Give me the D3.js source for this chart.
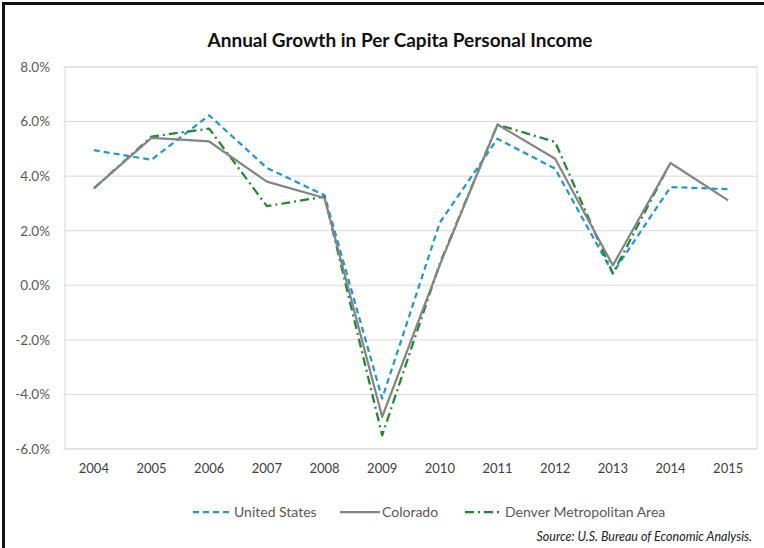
<!DOCTYPE html>
<html><head><meta charset="utf-8">
<script src="https://cdn.jsdelivr.net/npm/d3@7"></script>
<style>body{margin:0;background:#fff;}svg{display:block;}</style>
</head><body>
<script>
const years = ["2004","2005","2006","2007","2008","2009","2010","2011","2012","2013","2014","2015"];
const unitedStates = [4.95, 4.6, 6.23, 4.3, 3.3, -4.15, 2.3, 5.37, 4.27, 0.45, 3.6, 3.52];
const colorado = [3.55, 5.4, 5.27, 3.8, 3.2, -4.82, 0.75, 5.89, 4.64, 0.73, 4.48, 3.11];
const denver = [3.55, 5.45, 5.74, 2.9, 3.25, -5.5, 0.8, 5.89, 5.25, 0.43, 4.5, null];
const yTicks = [-6, -4, -2, 0, 2, 4, 6, 8];
const seriesNames = ["United States", "Colorado", "Denver Metropolitan Area"];

(function () {
const W = 764, H = 548;
const svg = d3.select("body").append("svg").attr("width", W).attr("height", H);
const font = "Lato, 'Open Sans', sans-serif";

// outer frame (cropped at right/bottom)
svg.append("rect").attr("x", 3.5).attr("y", 3.5).attr("width", W + 10).attr("height", H + 10)
  .attr("fill", "none").attr("stroke", "#111").attr("stroke-width", 3);

const pL = 65, pR = 757, pT = 67, pB = 449;
const x = d3.scaleBand().domain(years).range([pL, pR]);
const y = d3.scaleLinear().domain([-6, 8]).range([pB, pT]);

// gridlines
svg.append("g").selectAll("line").data(yTicks).join("line")
  .attr("x1", pL).attr("x2", pR)
  .attr("y1", d => y(d)).attr("y2", d => y(d))
  .attr("stroke", "#d9d9d9").attr("stroke-width", 1);
svg.append("rect").attr("x", pL).attr("y", pT).attr("width", pR - pL).attr("height", pB - pT)
  .attr("fill", "none").attr("stroke", "#d9d9d9").attr("stroke-width", 1);

// y axis
const yAxis = d3.axisLeft(y).tickValues(yTicks).tickSize(0).tickPadding(15)
  .tickFormat(d => d.toFixed(1) + "%");
const gy = svg.append("g").attr("transform", `translate(${pL},0)`).call(yAxis);
gy.select(".domain").remove();
gy.selectAll("text").attr("font-family", font).attr("font-size", 13.5).attr("fill", "#595959");

// x axis
const xAxis = d3.axisBottom(x).tickSize(0).tickPadding(15);
const gx = svg.append("g").attr("transform", `translate(0,${pB})`).call(xAxis);
gx.select(".domain").remove();
gx.selectAll("text").attr("font-family", font).attr("font-size", 13).attr("fill", "#404040");

const cx = d => x(d) + x.bandwidth() / 2;
const series = [
  {name: seriesNames[0], values: unitedStates, color: "#2196d3", dash: "6,4"},
  {name: seriesNames[1], values: colorado, color: "#858585", dash: null},
  {name: seriesNames[2], values: denver, color: "#1b8a2c", dash: "9,4,2,4"}
];
const line = d3.line().defined(d => d.v != null).x(d => cx(d.year)).y(d => y(d.v));

[series[0], series[2], series[1]].forEach(s => {
  svg.append("path")
    .datum(years.map((yr, i) => ({year: yr, v: s.values[i]})))
    .attr("d", line).attr("fill", "none")
    .attr("stroke", s.color).attr("stroke-width", 2.25)
    .attr("stroke-dasharray", s.dash)
    .attr("stroke-linejoin", "round");
});

// title
svg.append("text").attr("x", 400).attr("y", 47).attr("text-anchor", "middle")
  .attr("font-family", font).attr("font-weight", "bold").attr("font-size", 19).attr("fill", "#111")
  .text("Annual Growth in Per Capita Personal Income");

// legend
const legendItems = [
  {s: series[0], x0: 193, x1: 232},
  {s: series[1], x0: 340, x1: 380},
  {s: series[2], x0: 465, x1: 503}
];
const ly = 512;
legendItems.forEach(it => {
  svg.append("line").attr("x1", it.x0).attr("x2", it.x1).attr("y1", ly).attr("y2", ly)
    .attr("stroke", it.s.color).attr("stroke-width", 2.25).attr("stroke-dasharray", it.s.dash);
  svg.append("text").attr("x", it.x1 + 2).attr("y", ly + 5)
    .attr("font-family", font).attr("font-size", 14).attr("fill", "#595959")
    .text(it.s.name);
});

// source
svg.append("text").attr("x", 752).attr("y", 541).attr("text-anchor", "end")
  .attr("font-family", font).attr("font-style", "italic").attr("font-size", 12.5).attr("fill", "#222")
  .text("Source: U.S. Bureau of Economic Analysis.");
})();
</script>
</body></html>
